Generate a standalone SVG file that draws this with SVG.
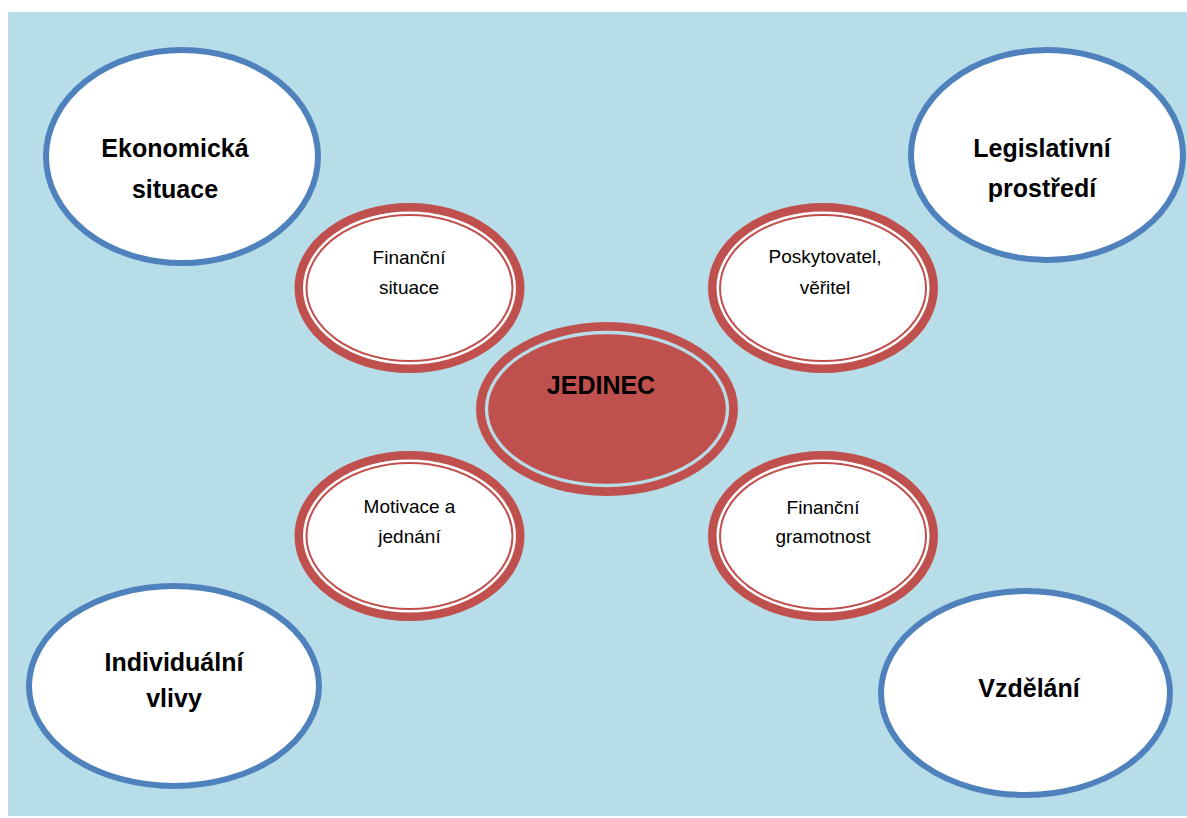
<svg xmlns="http://www.w3.org/2000/svg" width="1187" height="818" viewBox="0 0 1187 818">
  <style>
    .outer { fill: #ffffff; stroke: #4f81bd; stroke-width: 6; }
    .ring { fill: #ffffff; stroke: #c0504d; stroke-width: 13; }
    .ringgap { fill: none; stroke: #ffffff; stroke-width: 2.5; }
    .core { fill: #c0504d; }
    .coregap { fill: none; stroke: #b7dde8; stroke-width: 3.3; }
    .big { font-family: "Liberation Sans", Arial, sans-serif; font-weight: bold; font-size: 25px; fill: #000; text-anchor: middle; }
    .small { font-family: "Liberation Sans", Arial, sans-serif; font-size: 19px; fill: #000; text-anchor: middle; }
  </style>

  <!-- backdrop -->
  <rect x="8" y="12" width="1179" height="804" fill="#b7dde8"/>

  <!-- outer influences -->
  <g id="ekonomicka-situace">
    <ellipse class="outer" cx="182" cy="156.5" rx="136" ry="106.5"/>
    <text class="big" x="175" y="157">Ekonomická</text>
    <text class="big" x="175" y="198">situace</text>
  </g>
  <g id="legislativni-prostredi">
    <ellipse class="outer" cx="1047" cy="155" rx="136" ry="105"/>
    <text class="big" x="1042" y="157">Legislativní</text>
    <text class="big" x="1042" y="197">prostředí</text>
  </g>
  <g id="individualni-vlivy">
    <ellipse class="outer" cx="174" cy="686" rx="145" ry="100"/>
    <text class="big" x="174" y="671">Individuální</text>
    <text class="big" x="174" y="707">vlivy</text>
  </g>
  <g id="vzdelani">
    <ellipse class="outer" cx="1025.5" cy="693" rx="144.5" ry="102"/>
    <text class="big" x="1029" y="697">Vzdělání</text>
  </g>

  <!-- inner factors -->
  <g id="financni-situace">
    <ellipse class="ring" cx="409.5" cy="288" rx="108.5" ry="78.5"/>
    <ellipse class="ringgap" cx="409.5" cy="288" rx="105.25" ry="75.25"/>
    <text class="small" x="409" y="264">Finanční</text>
    <text class="small" x="409" y="294">situace</text>
  </g>
  <g id="poskytovatel-veritel">
    <ellipse class="ring" cx="823" cy="288" rx="108.5" ry="78.5"/>
    <ellipse class="ringgap" cx="823" cy="288" rx="105.25" ry="75.25"/>
    <text class="small" x="825" y="263">Poskytovatel,</text>
    <text class="small" x="825" y="294">věřitel</text>
  </g>
  <g id="motivace-a-jednani">
    <ellipse class="ring" cx="409.5" cy="536" rx="108.5" ry="78.5"/>
    <ellipse class="ringgap" cx="409.5" cy="536" rx="105.25" ry="75.25"/>
    <text class="small" x="409.5" y="513">Motivace a</text>
    <text class="small" x="409.5" y="543">jednání</text>
  </g>
  <g id="financni-gramotnost">
    <ellipse class="ring" cx="823" cy="536" rx="108.5" ry="78.5"/>
    <ellipse class="ringgap" cx="823" cy="536" rx="105.25" ry="75.25"/>
    <text class="small" x="823" y="514">Finanční</text>
    <text class="small" x="823" y="543">gramotnost</text>
  </g>

  <!-- centre -->
  <g id="jedinec">
    <ellipse class="core" cx="607" cy="409" rx="131" ry="87"/>
    <ellipse class="coregap" cx="607" cy="409" rx="120.5" ry="76.5"/>
    <text class="big" x="601" y="394">JEDINEC</text>
  </g>
</svg>
